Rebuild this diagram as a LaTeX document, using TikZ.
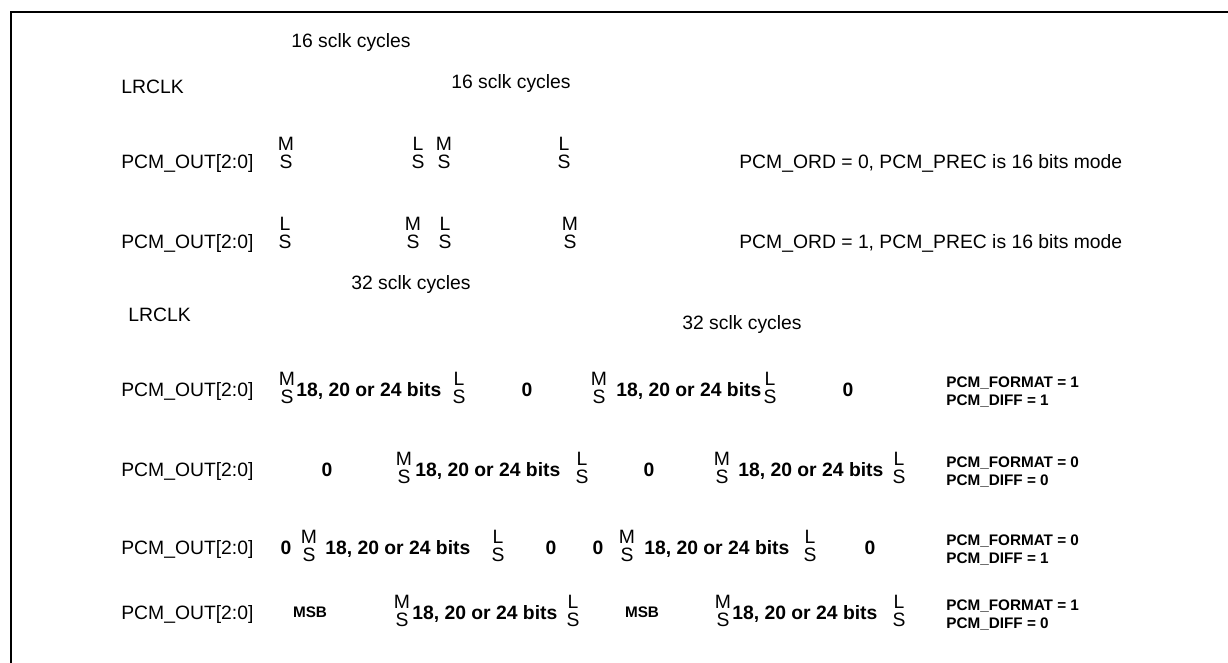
\documentclass[tikz,border=0pt]{standalone}
\usepackage{fontspec}
\setmainfont{Liberation Sans}

% one stacked pair: a bit letter set #5 above an S
\newcommand{\stk}[5]{%
    \node[bit] (#1t) at (#2,#3-#5) {#4};
    \node[bit] (#1b) at (#2,#3) {S};}

\tikzset{
    sig/.style={inner sep=0pt, anchor=base west, font=\fontsize{11}{13}\selectfont},
    bit/.style={inner sep=0pt, anchor=base, font=\fontsize{11}{13}\selectfont},
    word/.style={inner sep=0pt, anchor=base west, font=\fontsize{11}{13}\selectfont\bfseries},
    zero/.style={inner sep=0pt, anchor=base, font=\fontsize{11}{13}\selectfont\bfseries},
    note/.style={inner sep=0pt, anchor=base west, font=\fontsize{8.7}{10}\selectfont\bfseries},
    tag/.style={inner sep=0pt, anchor=base, font=\fontsize{8.7}{10}\selectfont\bfseries},
    frame/.style={line width=0.05cm}
}

\begin{document}
\begin{tikzpicture}[x=0.02cm,y=-0.02cm]
\useasboundingbox (0,0) rectangle (1228,663);
\draw[frame] (11,663) -- (11,12) -- (1228,12);

% 16 bit mode
\node[sig] (c16a) at (291,47) {16 sclk cycles};
\node[sig] (lr1) at (121,93) {LRCLK};
\node[sig] (c16b) at (451,88) {16 sclk cycles};

\node[sig] (oa) at (121,168) {PCM\_OUT[2:0]};
\stk{a1}{286}{168}{M}{17.5} \stk{a2}{418}{168}{L}{17.5}
\stk{a3}{444}{168}{M}{17.5} \stk{a4}{564}{168}{L}{17.5}
\node[sig] (na) at (739,168) {PCM\_ORD = 0, PCM\_PREC is 16 bits mode};

\node[sig] (ob) at (121,248) {PCM\_OUT[2:0]};
\stk{b1}{285}{248}{L}{17.5} \stk{b2}{413}{248}{M}{17.5}
\stk{b3}{445}{248}{L}{17.5} \stk{b4}{570}{248}{M}{17.5}
\node[sig] (nb) at (739,248) {PCM\_ORD = 1, PCM\_PREC is 16 bits mode};

% 18, 20 or 24 bit modes
\node[sig] (c32a) at (351,289) {32 sclk cycles};
\node[sig] (lr2) at (128,321) {LRCLK};
\node[sig] (c32b) at (682,329) {32 sclk cycles};

\foreach \r/\y in {c/396,d/476,e/554,f/619}
    \node[sig] (o\r) at (121,\y) {PCM\_OUT[2:0]};

% PCM_FORMAT = 1, PCM_DIFF = 1
\stk{c1}{287}{403}{M}{17.5}
\node[word] (wc1) at (296,396) {18, 20 or 24 bits};
\stk{c2}{459}{403}{L}{17.5}
\node[zero] (zc1) at (527,396) {0};
\stk{c3}{599}{403}{M}{17.5}
\node[word] (wc2) at (616,396) {18, 20 or 24 bits};
\stk{c4}{770}{403}{L}{17.5}
\node[zero] (zc2) at (848,396) {0};
\node[note] (fc) at (946,387.5) {PCM\_FORMAT = 1};
\node[note] (dc) at (946,405.5) {PCM\_DIFF = 1};

% PCM_FORMAT = 0, PCM_DIFF = 0
\node[zero] (zd1) at (327,476) {0};
\stk{d1}{404}{483}{M}{17.5}
\node[word] (wd1) at (415,476) {18, 20 or 24 bits};
\stk{d2}{582}{483}{L}{17.5}
\node[zero] (zd2) at (649,476) {0};
\stk{d3}{722}{483}{M}{17.5}
\node[word] (wd2) at (738,476) {18, 20 or 24 bits};
\stk{d4}{899}{483}{L}{17.5}
\node[note] (fd) at (946,467.5) {PCM\_FORMAT = 0};
\node[note] (dd) at (946,485.5) {PCM\_DIFF = 0};

% PCM_FORMAT = 0, PCM_DIFF = 1
\node[zero] (ze1) at (286,554) {0};
\stk{e1}{309}{561}{M}{17.5}
\node[word] (we1) at (325,554) {18, 20 or 24 bits};
\stk{e2}{498}{561}{L}{17.5}
\node[zero] (ze2) at (551,554) {0};
\node[zero] (ze3) at (598,554) {0};
\stk{e3}{627}{561}{M}{17.5}
\node[word] (we2) at (644,554) {18, 20 or 24 bits};
\stk{e4}{810}{561}{L}{17.5}
\node[zero] (ze4) at (870,554) {0};
\node[note] (fe) at (946,545.5) {PCM\_FORMAT = 0};
\node[note] (de) at (946,563.5) {PCM\_DIFF = 1};

% PCM_FORMAT = 1, PCM_DIFF = 0
\node[tag] (mf1) at (310,617.5) {MSB};
\stk{f1}{402}{626}{M}{17.5}
\node[word] (wf1) at (412,619) {18, 20 or 24 bits};
\stk{f2}{573}{626}{L}{17.5}
\node[tag] (mf2) at (642,617.5) {MSB};
\stk{f3}{723}{626}{M}{17.5}
\node[word] (wf2) at (732,619) {18, 20 or 24 bits};
\stk{f4}{899}{626}{L}{17.5}
\node[note] (ff) at (946,610.5) {PCM\_FORMAT = 1};
\node[note] (df) at (946,628.5) {PCM\_DIFF = 0};
\end{tikzpicture}
\end{document}
